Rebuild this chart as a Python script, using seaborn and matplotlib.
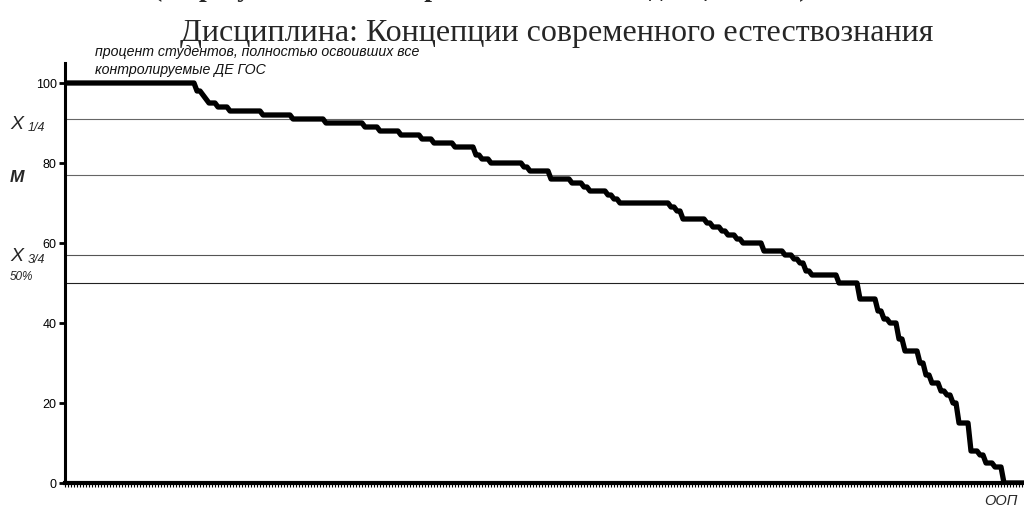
import numpy as np
import pandas as pd
import seaborn as sns
import matplotlib.pyplot as plt

# percent of students per programme (ООП), sorted: levels and how many ООП sit on each level
levels = [100, 98, 97, 96, 95, 94, 93, 92, 91, 90, 89, 88, 87, 86, 85, 84, 82, 81, 80,
          79, 78, 76, 75, 74, 73, 72, 71, 70, 69, 68, 66, 65, 64, 63, 62, 61, 60, 58,
          57, 56, 55, 53, 52, 50, 46, 43, 41, 40, 36, 33, 30, 27, 25, 23, 22, 20, 15,
          8, 7, 5, 4, 0]
counts = [44, 2, 1, 1, 3, 4, 11, 10, 11, 13, 5, 7, 7, 4, 7, 7, 2, 3, 11,
          2, 7, 7, 4, 2, 6, 2, 2, 17, 2, 2, 8, 2, 3, 2, 3, 2, 7, 7,
          3, 2, 2, 2, 9, 7, 6, 2, 2, 3, 2, 5, 2, 2, 3, 2, 2, 2, 4,
          3, 2, 3, 3, 8]

ref_values = [91, 77, 57, 50]          # x1/4, M, x3/4, 50%
ref_colors = ['#666666', '#666666', '#555555', '#222222']
y_ticks = [0, 20, 40, 60, 80, 100]

title = 'Дисциплина: Концепции современного естествознания'
top_line = '(по результатам Интернет-экзамена по дисциплине)'
note = 'процент студентов, полностью освоивших все\nконтролируемые ДЕ ГОС'

sns.set_style('white')
plt.rcParams['font.family'] = ['Liberation Sans', 'DejaVu Sans']

values = np.repeat(levels, counts)
df = pd.DataFrame({'oop': np.arange(len(values)), 'pct': values})

fig = plt.figure(figsize=(10.24, 5.07), dpi=100)
ax = fig.add_axes([65 / 1024, 24 / 507, 960 / 1024, 420 / 507])

for v, c in zip(ref_values, ref_colors):
    ax.axhline(v, color=c, lw=0.8, zorder=1)

sns.lineplot(data=df, x='oop', y='pct', color='black', linewidth=3.8, ax=ax, zorder=3)

ax.set_xlim(0, 320)
ax.set_ylim(0, 105)
ax.set_xlabel('')
ax.set_ylabel('')
ax.set_xticks(df['oop'])
ax.set_xticklabels([])
ax.set_yticks(y_ticks)
ax.tick_params(axis='y', left=True, direction='out', length=4, width=2,
               labelsize=9, pad=2, colors='black')
ax.tick_params(axis='x', bottom=True, direction='out', length=3, width=0.8,
               pad=0, colors='black')
for side in ['top', 'right']:
    ax.spines[side].set_visible(False)
for side, w in [('left', 2.2), ('bottom', 3)]:
    ax.spines[side].set_linewidth(w)
    ax.spines[side].set_color('black')
    ax.spines[side].set_zorder(4)

# labels of the reference lines, left of the axis
fig.text(10 / 1024, 1 - 129 / 507, 'X', fontsize=14, style='italic')
fig.text(28 / 1024, 1 - 131 / 507, '1/4', fontsize=9, style='italic')
fig.text(10 / 1024, 1 - 182 / 507, 'M', fontsize=12.5, style='italic', weight='bold')
fig.text(10 / 1024, 1 - 261 / 507, 'X', fontsize=14, style='italic')
fig.text(28 / 1024, 1 - 263 / 507, '3/4', fontsize=9, style='italic')
fig.text(10 / 1024, 1 - 280 / 507, '50%', fontsize=8.5, style='italic')

fig.text(95 / 1024, 1 - 74 / 507, note, fontsize=10.2, style='italic',
         color='#111111', linespacing=1.35)
fig.text(984 / 1024, 1 - 505 / 507, 'ООП', fontsize=10.5, style='italic')

fig.text(557 / 1024, 1 - 41 / 507, title, fontsize=23, ha='center',
         family='Liberation Serif')
fig.text(481 / 1024, 1 + 4 / 507, top_line, fontsize=20, ha='center',
         family='Liberation Serif', weight='bold')

fig.savefig('out.png', dpi=100)
